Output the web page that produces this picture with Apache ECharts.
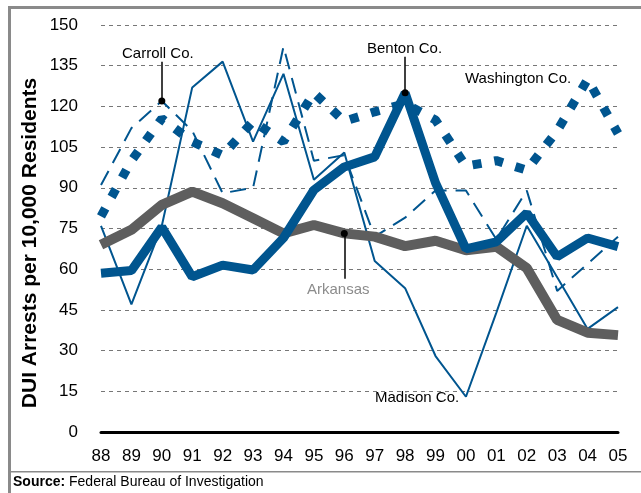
<!DOCTYPE html>
<html>
<head>
<meta charset="utf-8">
<style>
  html, body { margin: 0; padding: 0; background: #fff; }
  #main { width: 641px; height: 493px; }
</style>
</head>
<body>
<div id="main"></div>
<script src="https://cdn.jsdelivr.net/npm/echarts@6/dist/echarts.min.js"></script>
<script type="text/javascript">
    // DUI arrests per 10,000 residents, 1988-2005
    var years = ['88','89','90','91','92','93','94','95','96','97','98','99','00','01','02','03','04','05'];
    var yTicks = [0, 15, 30, 45, 60, 75, 90, 105, 120, 135, 150];
    var madison    = [76, 47, 76, 127, 136.5, 107, 132, 93, 103, 63, 53, 28, 13, 44, 76, 57, 38, 46];
    var carroll    = [91, 112, 122, 111, 88, 90, 142, 100, 102, 72, 79, 89, 89, 71, 89, 52, 62, 72];
    var washington = [79.5, 100, 115.5, 107, 102, 114.5, 107, 125, 114.5, 118, 121, 115, 98, 100, 96.5, 111, 130, 110];
    var arkansas   = [69, 74.5, 83.7, 88.6, 84.3, 78.8, 73.2, 76.3, 73.2, 72, 68.5, 70.5, 67, 68.3, 60.4, 41.3, 36.6, 35.7];
    var benton     = [58.5, 59.5, 75.5, 57.2, 61.5, 59.7, 71.5, 89.2, 97.7, 101.4, 125, 91.8, 67.5, 70.1, 80.7, 64.6, 71.5, 68.3];

    var blue = '#00558f';
    var gray = '#5e5e5e';
    var font = '"Liberation Sans", Arial, sans-serif';

    function pointer(cat, val) {
        return {
            symbol: 'circle', symbolSize: 7, silent: true,
            itemStyle: {color: '#000'}, label: {show: false},
            data: [{coord: [cat, val]}]
        };
    }
    function leader(cat, val, end) {
        return {
            symbol: 'none', silent: true, animation: false,
            lineStyle: {color: '#000', width: 1.5, type: 'solid'},
            label: {show: false},
            data: [[{coord: [cat, val]}, {coord: [cat, end]}]]
        };
    }

    var myChart = echarts.init(document.getElementById('main'));
    var option = {
        animation: false,
        textStyle: {fontFamily: font},
        grid: {left: 101, right: 23, top: 25, bottom: 61},
        xAxis: {
            type: 'category',
            data: years,
            boundaryGap: false,
            axisLine: {show: true, lineStyle: {color: '#000', width: 3}},
            axisTick: {show: false},
            axisLabel: {color: '#000', fontSize: 17, margin: 16, fontFamily: font},
            splitLine: {show: false}
        },
        yAxis: {
            type: 'value',
            min: yTicks[0],
            max: yTicks[yTicks.length - 1],
            interval: 15,
            axisLine: {show: false},
            axisTick: {show: false},
            axisLabel: {color: '#000', fontSize: 17, margin: 23, fontFamily: font},
            splitLine: {lineStyle: {color: '#777', width: 1, type: [4, 4]}}
        },
        series: [
            {
                name: 'Madison Co.', type: 'line', data: madison,
                symbol: 'none', lineStyle: {color: blue, width: 2}
            },
            {
                name: 'Carroll Co.', type: 'line', data: carroll,
                symbol: 'none', lineStyle: {color: blue, width: 2, type: [16, 9]},
                markPoint: pointer('90', carroll[2]),
                markLine: leader('90', carroll[2], 136.5)
            },
            {
                name: 'Washington Co.', type: 'line', data: washington,
                symbol: 'none', lineStyle: {color: blue, width: 9, type: [9, 13], cap: 'butt'}
            },
            {
                name: 'Arkansas', type: 'line', data: arkansas,
                symbol: 'none', lineStyle: {color: gray, width: 10},
                markPoint: pointer('96', arkansas[8]),
                markLine: leader('96', arkansas[8], 56.5)
            },
            {
                name: 'Benton Co.', type: 'line', data: benton,
                symbol: 'none', lineStyle: {color: blue, width: 9},
                markPoint: pointer('98', benton[10]),
                markLine: leader('98', benton[10], 138.3)
            }
        ],
        graphic: [
            // frame
            {type: 'rect', silent: true, shape: {x: 8, y: 6, width: 3, height: 487}, style: {fill: '#8a8a8a'}},
            {type: 'rect', silent: true, shape: {x: 8, y: 6, width: 633, height: 3}, style: {fill: '#8a8a8a'}},
            {type: 'rect', silent: true, shape: {x: 8, y: 471, width: 633, height: 1.5}, style: {fill: '#8a8a8a'}},
            // y axis title
            {
                type: 'text', x: 30, y: 243, rotation: Math.PI / 2, silent: true,
                style: {
                    text: 'DUI Arrests per 10,000 Residents',
                    font: 'bold 21px ' + font, fill: '#000',
                    align: 'center', verticalAlign: 'middle'
                }
            },
            // series labels
            {type: 'text', left: 122, top: 46, style: {text: 'Carroll Co.', font: '15px ' + font, fill: '#000'}},
            {type: 'text', left: 367, top: 41, style: {text: 'Benton Co.', font: '15px ' + font, fill: '#000'}},
            {type: 'text', left: 465, top: 71, style: {text: 'Washington Co.', font: '15px ' + font, fill: '#000'}},
            {type: 'text', left: 307, top: 282, style: {text: 'Arkansas', font: '15px ' + font, fill: '#8c8c8c'}},
            {type: 'text', left: 375, top: 390, style: {text: 'Madison Co.', font: '15px ' + font, fill: '#000'}},
            // source
            {
                type: 'text', left: 13, top: 475,
                style: {
                    text: '{b|Source:} Federal Bureau of Investigation',
                    font: '14px ' + font, fill: '#000',
                    rich: {b: {fontWeight: 'bold', fontSize: 14, fontFamily: font}}
                }
            }
        ]
    };

    myChart.setOption(option);
</script>
</body>
</html>
